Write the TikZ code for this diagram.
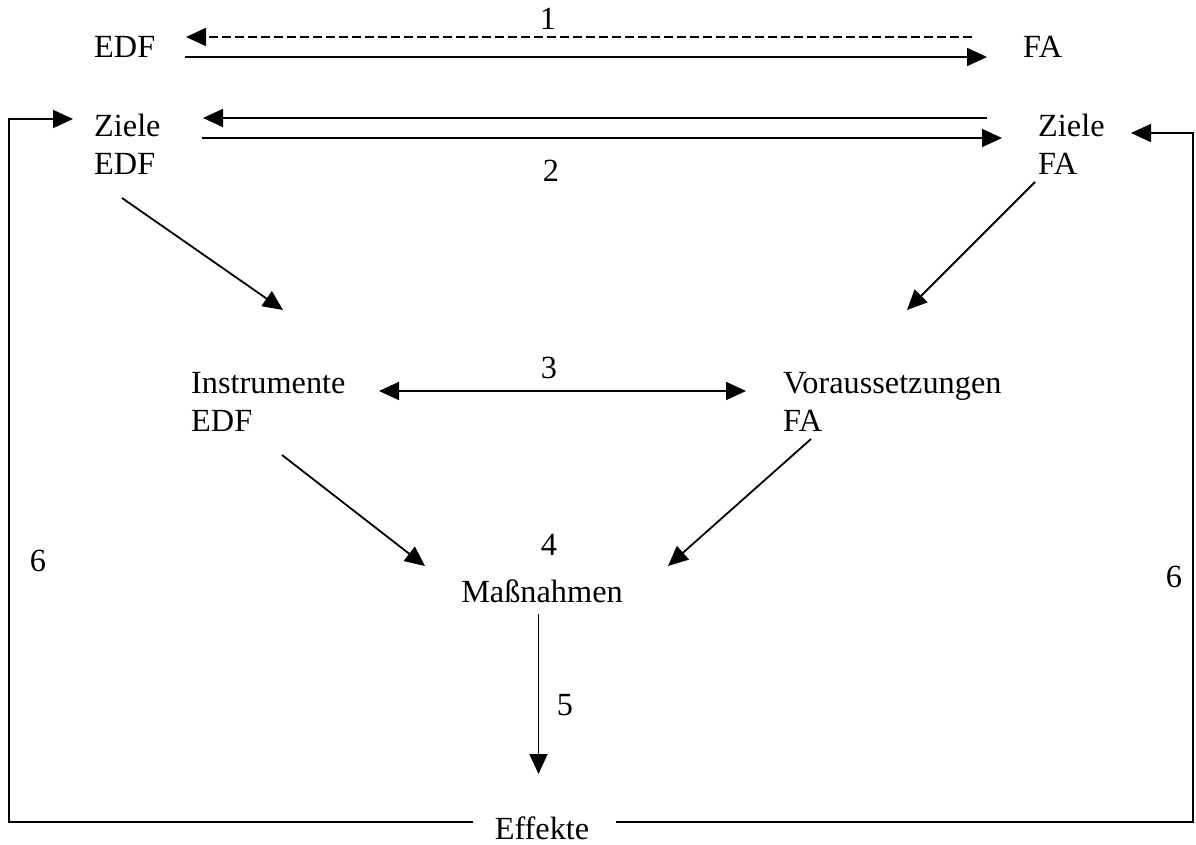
\documentclass[tikz,border=0pt]{standalone}
\usepackage{fontspec}
\setmainfont{Liberation Serif}
\usetikzlibrary{arrows.meta}
\begin{document}
\begin{tikzpicture}[x=1pt,y=-1pt,
  lbl/.style={inner sep=0pt,font=\fontsize{32.3}{38}\selectfont},
  lw/.style={lbl,anchor=base west},
  lc/.style={lbl,anchor=base},
  tip/.tip={Triangle[length=20pt,width=18pt]},
  conn/.style={line width=1.8pt,-tip},
  both/.style={line width=1.8pt,tip-tip},
  loopline/.style={line width=1.8pt,miter limit=10,-tip}]
\useasboundingbox (0,0) rectangle (1196,845);
% texts
\node[lc] (n1) at (548,30) {1};
\node[lw] (edf) at (94,58) {EDF};
\node[lw] (fa) at (1023,58) {FA};
\node[lw] (zedf1) at (94,137) {Ziele};
\node[lw] (zedf2) at (94,175) {EDF};
\node[lw] (zfa1) at (1038,137) {Ziele};
\node[lw] (zfa2) at (1038,175) {FA};
\node[lc] (n2) at (551,182) {2};
\node[lc] (n3) at (549,378) {3};
\node[lw] (inst1) at (191,393) {Instrumente};
\node[lw] (inst2) at (191,431) {EDF};
\node[lw] (vor1) at (783,393) {Voraussetzungen};
\node[lw] (vor2) at (783,431) {FA};
\node[lc] (n4) at (549,555) {4};
\node[lc] (mass) at (542,602) {Maßnahmen};
\node[lc] (n5) at (565,715) {5};
\node[lc] (eff) at (542,839) {Effekte};
\node[lc] (n6l) at (38,571) {6};
\node[lc] (n6r) at (1174,587) {6};
% connector ends
\coordinate (d1a) at (972,37);
\coordinate (d1b) at (186,37);
\coordinate (s1a) at (185,57);
\coordinate (s1b) at (987,57);
\coordinate (z1a) at (987,118);
\coordinate (z1b) at (203,118);
\coordinate (z2a) at (202,138);
\coordinate (z2b) at (1002,138);
\coordinate (dl1a) at (122,198);
\coordinate (dl1b) at (283,310);
\coordinate (dr1a) at (1035,182);
\coordinate (dr1b) at (907,310);
\coordinate (h3a) at (379,391);
\coordinate (h3b) at (746,391);
\coordinate (dl2a) at (282,455);
\coordinate (dl2b) at (425,566);
\coordinate (dr2a) at (811,439);
\coordinate (dr2b) at (668,566);
\coordinate (v5a) at (538.5,614);
\coordinate (v5b) at (538.5,774);
\coordinate (ll0) at (473,822);
\coordinate (ll1) at (9,822);
\coordinate (ll2) at (9,119);
\coordinate (ll3) at (73,119);
\coordinate (rl0) at (616,822);
\coordinate (rl1) at (1193,822);
\coordinate (rl2) at (1193,133);
\coordinate (rl3) at (1131,133);
% connectors
\draw[conn,dash pattern=on 9pt off 4pt] (d1a) -- (d1b);
\draw[conn] (s1a) -- (s1b);
\draw[conn] (z1a) -- (z1b);
\draw[conn] (z2a) -- (z2b);
\draw[conn] (dl1a) -- (dl1b);
\draw[conn] (dr1a) -- (dr1b);
\draw[both] (h3a) -- (h3b);
\draw[conn] (dl2a) -- (dl2b);
\draw[conn] (dr2a) -- (dr2b);
\draw[conn] (v5a) -- (v5b);
\draw[loopline] (ll0) -- (ll1) -- (ll2) -- (ll3);
\draw[loopline] (rl0) -- (rl1) -- (rl2) -- (rl3);
\end{tikzpicture}
\end{document}
